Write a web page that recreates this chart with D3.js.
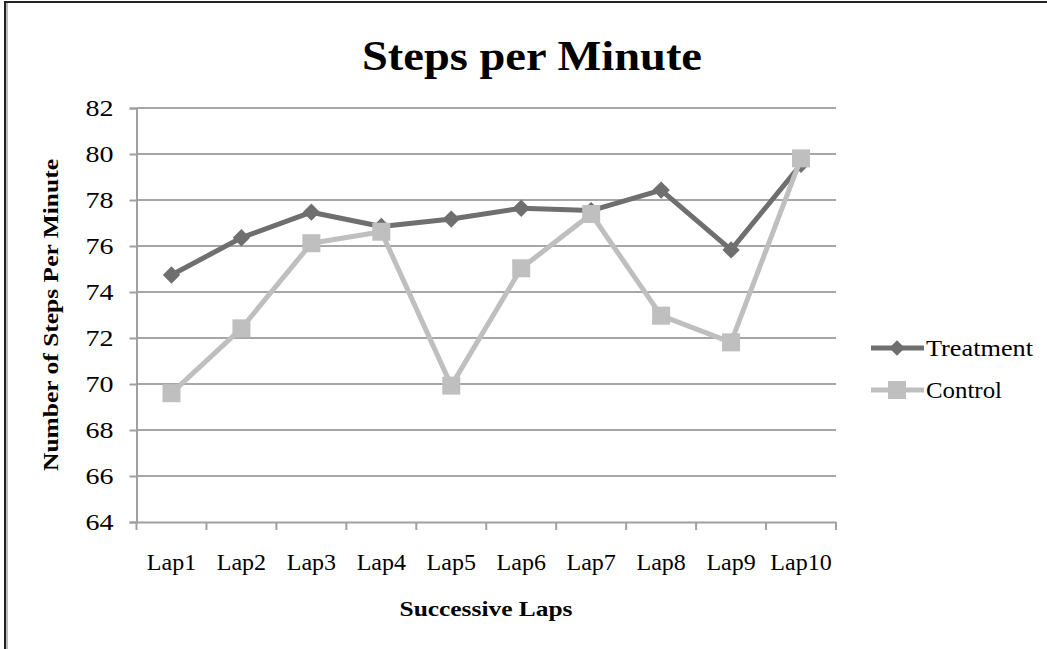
<!DOCTYPE html>
<html><head><meta charset="utf-8">
<script src="https://cdn.jsdelivr.net/npm/d3@7"></script>
<style>body{margin:0;background:#fff}svg{display:block}text{font-family:"Liberation Serif","DejaVu Serif",serif;fill:#000}</style>
</head><body>
<svg id="c" width="1047" height="649"></svg>
<script>
const categories = ["Lap1","Lap2","Lap3","Lap4","Lap5","Lap6","Lap7","Lap8","Lap9","Lap10"];
const treatment = [74.74, 76.36, 77.47, 76.85, 77.17, 77.64, 77.54, 78.43, 75.83, 79.55];
const control   = [69.6, 72.42, 76.12, 76.62, 69.93, 75.03, 77.39, 72.97, 71.81, 79.81];
const yTicks = [64,66,68,70,72,74,76,78,80,82];
const seriesNames = ["Treatment","Control"];

const svg = d3.select("#c");
const L = 136.5, R = 836, T = 108, B = 522;
const x = d3.scaleBand().domain(categories).range([L, R]);
const y = d3.scaleLinear().domain([64, 82]).range([B, T]);

// outer frame
svg.append("line").attr("x1",5).attr("x2",5).attr("y1",2).attr("y2",649).attr("stroke","#222").attr("stroke-width",2);
svg.append("line").attr("x1",7).attr("x2",7).attr("y1",3).attr("y2",649).attr("stroke","#bbb").attr("stroke-width",2);
svg.append("line").attr("x1",4).attr("x2",1047).attr("y1",2).attr("y2",2).attr("stroke","#222").attr("stroke-width",2);

// gridlines
svg.append("g").selectAll("line").data(yTicks.slice(1)).join("line")
  .attr("x1", L).attr("x2", R).attr("y1", d=>y(d)).attr("y2", d=>y(d))
  .attr("stroke","#a6a6a6").attr("stroke-width",2);

// y axis
const yAxis = svg.append("g").attr("transform",`translate(${L},0)`)
  .call(d3.axisLeft(y).tickValues(yTicks).tickSize(7).tickPadding(16));
yAxis.attr("font-family",null).attr("font-size",null);
yAxis.select(".domain").attr("stroke","#a0a0a0").attr("stroke-width",2);
yAxis.selectAll(".tick line").attr("stroke","#a0a0a0").attr("stroke-width",2);
yAxis.selectAll(".tick text").style("font-size","24px").attr("fill","#000")
  .attr("textLength",28).attr("lengthAdjust","spacingAndGlyphs");

// x axis
const xAxis = svg.append("g").attr("transform",`translate(0,${B})`)
  .call(d3.axisBottom(x).tickSize(0).tickPadding(31));
xAxis.attr("font-family",null).attr("font-size",null);
xAxis.select(".domain").attr("stroke","#a0a0a0").attr("stroke-width",2);
xAxis.selectAll(".tick text").style("font-size","24px").attr("fill","#000");
const bounds = categories.map((c,i)=>x(c)).concat([R]);
svg.append("g").selectAll("line").data(bounds).join("line")
  .attr("x1",d=>d).attr("x2",d=>d).attr("y1",B).attr("y2",B+8)
  .attr("stroke","#a0a0a0").attr("stroke-width",2);

const cx = d => x(d) + x.bandwidth()/2;
const line = d3.line().x((d,i)=>cx(categories[i])).y(d=>y(d));
const colors = ["#6f6f6f","#bfbfbf"];

svg.append("path").datum(treatment).attr("d",line).attr("fill","none").attr("stroke",colors[0]).attr("stroke-width",5).attr("stroke-linejoin","round");
const diamond = d3.symbol().type(d3.symbolSquare).size(150);
svg.append("g").selectAll("path").data(treatment).join("path")
  .attr("d",diamond()).attr("transform",(d,i)=>`translate(${cx(categories[i])},${y(d)}) rotate(45)`).attr("fill",colors[0]);

svg.append("path").datum(control).attr("d",line).attr("fill","none").attr("stroke",colors[1]).attr("stroke-width",5).attr("stroke-linejoin","round");
svg.append("g").selectAll("rect").data(control).join("rect")
  .attr("x",(d,i)=>cx(categories[i])-9).attr("y",d=>y(d)-9).attr("width",18).attr("height",18).attr("fill",colors[1]);

// title
svg.append("text").attr("x",532).attr("y",70).attr("text-anchor","middle")
  .style("font-size","42px").style("font-weight","bold")
  .attr("textLength",340).attr("lengthAdjust","spacingAndGlyphs").text("Steps per Minute");

// axis titles
svg.append("text").attr("x",486).attr("y",616).attr("text-anchor","middle")
  .style("font-size","22px").style("font-weight","bold")
  .attr("textLength",173).attr("lengthAdjust","spacingAndGlyphs").text("Successive Laps");
svg.append("text").attr("transform","translate(58,315) rotate(-90)").attr("text-anchor","middle")
  .style("font-size","22px").style("font-weight","bold")
  .attr("textLength",312).attr("lengthAdjust","spacingAndGlyphs").text("Number of Steps Per Minute");

// legend
const lg = svg.append("g");
const legendW = [107, 76];
[0,1].forEach(i=>{
  const ly = 348 + i*42;
  lg.append("line").attr("x1",871).attr("x2",924).attr("y1",ly).attr("y2",ly).attr("stroke",colors[i]).attr("stroke-width",5);
  if(i===0) lg.append("path").attr("d",d3.symbol().type(d3.symbolSquare).size(120)()).attr("transform",`translate(897,${ly}) rotate(45)`).attr("fill",colors[0]);
  else lg.append("rect").attr("x",888).attr("y",ly-9).attr("width",18).attr("height",18).attr("fill",colors[1]);
  lg.append("text").attr("x",926).attr("y",ly+8).style("font-size","24px")
    .attr("textLength",legendW[i]).attr("lengthAdjust","spacingAndGlyphs").text(seriesNames[i]);
});
</script>
</body></html>
